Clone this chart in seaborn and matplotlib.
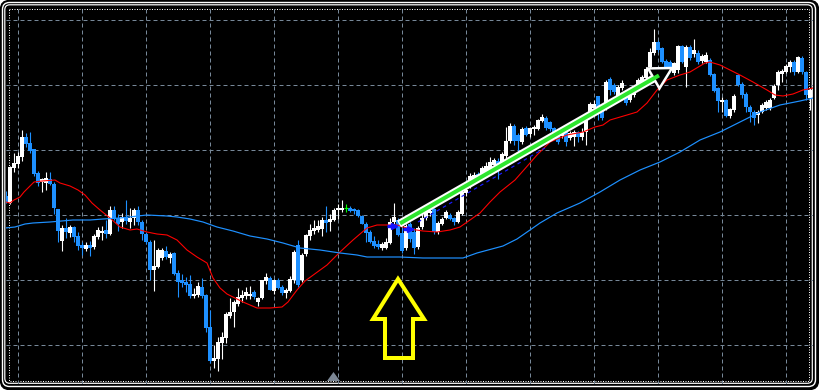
import numpy as np
import pandas as pd
import matplotlib.pyplot as plt
import seaborn as sns
from matplotlib.patches import FancyBboxPatch, Rectangle, Polygon

# Bars (arbitrary price units, one bar per slot)
open_ = [204, 197, 232, 236, 243, 263, 257, 251, 227, 218,
         217, 221, 216, 191, 159, 172, 167, 173, 164, 155,
         151, 155, 153, 163, 167, 170, 166, 190, 182, 178,
         183, 178, 182, 190, 178, 166, 158, 130, 133, 142,
         149, 142, 147, 127, 120, 118, 116, 104, 105, 113,
         105, 73, 39, 41, 57, 62, 84, 88, 96, 102,
         104, 104, 108, 98, 102, 119, 122, 109, 120, 113,
         107, 109, 120, 155, 120, 146, 164, 169, 170, 171,
         180, 178, 180, 190, 190, 192, 192, 191, 190, 184,
         176, 168, 159, 156, 152, 152, 157, 178, 180, 167,
         152, 176, 168, 153, 173, 182, 187, 191, 168, 176,
         182, 185, 182, 178, 186, 207, 218, 220, 226, 224,
         228, 231, 235, 239, 236, 244, 259, 274, 265, 258,
         272, 266, 271, 271, 279, 282, 278, 272, 268, 264,
         269, 262, 263, 268, 263, 268, 288, 292, 304, 292,
         293, 321, 315, 302, 312, 304, 300, 305, 313, 317,
         322, 333, 347, 358, 352, 339, 338, 327, 330, 354,
         333, 353, 346, 347, 339, 338, 340, 326, 312, 298,
         300, 284, 290, 325, 316, 306, 293, 288, 285, 288,
         292, 292, 302, 315, 326, 328, 333, 338, 328, 342,
         328, 302]
high = [209, 234, 247, 248, 270, 267, 268, 251, 229, 222,
        228, 228, 218, 191, 175, 182, 175, 174, 168, 158,
        158, 159, 166, 173, 174, 180, 194, 194, 186, 187,
        200, 192, 192, 194, 180, 168, 160, 160, 152, 152,
        154, 148, 148, 130, 126, 123, 125, 112, 118, 122,
        106, 90, 55, 63, 68, 88, 102, 100, 112, 110,
        113, 114, 110, 103, 120, 127, 124, 121, 122, 115,
        112, 124, 150, 160, 147, 166, 176, 180, 180, 183,
        194, 186, 192, 196, 200, 196, 194, 192, 191, 185,
        178, 170, 164, 160, 158, 162, 182, 197, 182, 172,
        176, 178, 172, 174, 186, 190, 191, 192, 179, 183,
        190, 187, 183, 190, 210, 215, 227, 228, 228, 234,
        238, 243, 242, 242, 248, 273, 277, 276, 267, 273,
        274, 273, 275, 281, 286, 284, 279, 273, 270, 269,
        270, 269, 270, 269, 272, 282, 298, 300, 304, 294,
        320, 323, 317, 315, 320, 305, 308, 314, 322, 325,
        333, 352, 371, 360, 353, 341, 340, 338, 355, 355,
        355, 355, 361, 350, 346, 348, 342, 327, 313, 303,
        301, 292, 306, 326, 318, 308, 295, 290, 290, 297,
        300, 302, 316, 330, 331, 336, 340, 340, 344, 344,
        329, 312]
low = [197, 196, 228, 232, 239, 253, 247, 224, 214, 208,
       210, 215, 186, 158, 149, 162, 163, 158, 150, 145,
       149, 144, 151, 161, 160, 162, 165, 180, 169, 172,
       176, 172, 175, 175, 160, 156, 120, 109, 132, 140,
       141, 137, 125, 103, 113, 108, 102, 102, 103, 102,
       68, 37, 32, 29, 41, 57, 82, 73, 94, 98,
       101, 101, 101, 94, 101, 116, 110, 106, 111, 105,
       102, 108, 117, 113, 118, 144, 160, 166, 168, 164,
       168, 169, 179, 181, 188, 188, 188, 186, 183, 176,
       158, 157, 152, 151, 150, 151, 156, 176, 164, 147,
       150, 158, 146, 151, 171, 180, 184, 166, 166, 175,
       181, 180, 175, 177, 185, 204, 212, 217, 218, 222,
       225, 228, 232, 221, 235, 242, 257, 255, 248, 256,
       264, 263, 265, 270, 278, 270, 269, 264, 256, 262,
       254, 260, 254, 258, 260, 255, 285, 290, 280, 280,
       290, 305, 306, 298, 310, 295, 298, 303, 311, 315,
       321, 332, 345, 348, 337, 331, 328, 325, 327, 337,
       313, 340, 343, 336, 337, 337, 324, 308, 288, 288,
       283, 282, 288, 314, 302, 288, 278, 275, 277, 287,
       290, 290, 301, 310, 318, 327, 328, 325, 327, 326,
       300, 290]
close = [198, 233, 237, 244, 263, 256, 249, 226, 217, 221,
         222, 216, 192, 169, 172, 168, 173, 163, 154, 152,
         155, 152, 164, 170, 169, 166, 190, 181, 176, 183,
         179, 182, 190, 178, 166, 158, 130, 134, 150, 150,
         143, 146, 126, 118, 117, 115, 104, 106, 114, 104,
         72, 39, 42, 58, 63, 86, 88, 98, 103, 105,
         108, 106, 103, 102, 120, 123, 110, 120, 112, 107,
         110, 121, 148, 115, 145, 165, 170, 172, 174, 180,
         177, 181, 190, 192, 192, 192, 189, 189, 184, 176,
         167, 158, 154, 153, 156, 158, 178, 183, 165, 149,
         174, 161, 152, 172, 182, 188, 189, 168, 177, 181,
         188, 181, 178, 188, 208, 210, 224, 225, 221, 232,
         234, 238, 240, 232, 246, 259, 274, 259, 259, 271,
         265, 272, 273, 280, 283, 272, 271, 266, 258, 267,
         258, 267, 268, 263, 268, 280, 296, 296, 292, 282,
         318, 310, 308, 313, 317, 297, 307, 313, 320, 323,
         331, 348, 358, 350, 338, 333, 330, 337, 354, 338,
         353, 342, 350, 338, 344, 345, 325, 309, 299, 300,
         284, 291, 304, 315, 305, 293, 288, 282, 288, 295,
         298, 300, 314, 328, 329, 334, 338, 328, 343, 328,
         305, 310]

# Moving averages, read at a set of bar positions
fast_ma_bar = [0, 1, 2, 3.5, 4.5, 6, 7, 9, 12.25, 13.5, 16, 18, 19.75, 21.5,
               23.5, 26, 28.5, 31, 32.75, 35.25, 37.75, 40.25, 42.75, 45.25,
               47.75, 50.25, 51.75, 53.5, 55.25, 56.75, 59.25, 62.75, 66, 69,
               70.5, 72.75, 74.75, 80.25, 83.5, 86.75, 90.25, 92.75, 95.25,
               97.75, 101, 104.25, 107.75, 111, 113.5, 116, 118.5, 121, 123.5,
               127.25, 131, 132.75, 136, 140.25, 144.25, 147.25, 149.25, 151,
               155.25, 157.75, 160.25, 162.75, 165.25, 168.5, 171, 174.75, 176,
               178.5, 181, 183.5, 186.75, 190.25, 192.25, 194.25, 196.75,
               199.25, 201.75]
fast_ma = [198, 197, 200, 203, 208, 214, 218, 219, 220, 217, 214, 210, 205, 197,
           190, 182, 173, 170, 171, 168, 166, 165, 160, 150,
           143, 137, 122, 112, 106, 103, 98, 92, 92, 93,
           98, 110, 119, 135, 148, 160, 172, 175, 175,
           175, 171, 169, 168, 170, 173, 180, 187, 198, 208,
           220, 237, 245, 258, 265, 268, 273, 275, 280,
           285, 288, 297, 310, 320, 325, 328, 337, 338,
           335, 330, 325, 318, 310, 305, 304, 306,
           310, 312]
slow_ma_bar = [-0.25, 2.25, 4.75, 6.75, 11, 16.75, 21, 24.25, 28.5, 35.25, 40.25,
               42.75, 46, 49.25, 52.75, 56.75, 61, 65.25, 69.25, 73.5, 78.5,
               83.5, 87.75, 90.25, 94.25, 98.5, 104.25, 114.25, 117.75, 124.25,
               127.75, 131, 133.5, 137.75, 143.5, 148.5, 153.5, 158.5, 163.5,
               168.5, 173.5, 178.5, 183.5, 188.5, 193.5, 198.5, 201.75]
slow_ma = [172, 173, 176, 177, 178, 180, 180, 181, 182, 185, 184,
           183, 181, 178, 173, 169, 164, 161, 157, 152, 150,
           147, 145, 143, 143, 143, 142, 142, 147, 154,
           161, 170, 177, 187, 197, 208, 220, 230, 238,
           248, 260, 268, 278, 288, 295, 299, 302]

# Drawn objects on the chart (bar, price)
trend_arrow = [(98.25, 176), (166.5, 332)]
trend_line = [(103, 178), (134.75, 252)]
signal_marks = [(96.5, 174), (100.5, 171)]

df = pd.DataFrame({"open": open_, "high": high, "low": low, "close": close})
df["bar"] = np.arange(len(df))
up = df[df.close > df.open]
dn = df[df.close < df.open]
dj = df[df.close == df.open]

BULL = "#ffffff"
BEAR = "#1e90ff"
DOJI = "#00ff00"
GRID = "#778899"
PX = 0.72  # one pixel in points at 100 dpi

sns.set_theme(style="dark")
plt.rcParams["figure.facecolor"] = "white"
fig = plt.figure(figsize=(8.19, 3.9), dpi=100)

# window frame in pixel units
bg = fig.add_axes([0, 0, 1, 1])
bg.set_xlim(0, 819)
bg.set_ylim(390, 0)
bg.axis("off")
bg.add_patch(FancyBboxPatch((0.5, 0.5), 818, 389, boxstyle="round,pad=0,rounding_size=9",
                            fc="black", ec="black", lw=1))
bg.add_patch(FancyBboxPatch((2.5, 2.5), 813, 384, boxstyle="round,pad=0,rounding_size=7",
                            fc="none", ec="white", lw=1.4 * PX))
bg.add_patch(FancyBboxPatch((4.8, 4.8), 807.5, 378.5, boxstyle="round,pad=0,rounding_size=5",
                            fc="none", ec="white", lw=1.2 * PX))
bg.add_patch(Rectangle((9, 8.5), 799.5, 372, fill=False, ec="white", lw=PX,
                       ls=(0, (1, 1.5))))

ax = fig.add_axes([5.5 / 819, (390 - 383.5) / 390, (812.5 - 5.5) / 819, (383.5 - 5.5) / 390])
ax.set_facecolor("none")
ax.set_zorder(2)
for s in ax.spines.values():
    s.set_visible(False)

# grid
ax.set_xticks(np.arange(3, 202, 16))
ax.set_yticks([55, 120, 185, 250, 315, 380])
ax.grid(True, color=GRID, lw=PX, ls=(0, (4, 3)))
ax.set_axisbelow(True)
ax.tick_params(length=0, labelbottom=False, labelleft=False)

# candles
ax.vlines(up.bar, up.low, up.high, color=BULL, lw=PX * 1.1, zorder=3)
ax.vlines(dn.bar, dn.low, dn.high, color=BEAR, lw=PX * 1.1, zorder=3)
ax.vlines(dj.bar, dj.low, dj.high, color=DOJI, lw=PX * 1.1, zorder=3)
ax.bar(up.bar, np.maximum(up.close - up.open, 1), bottom=up.open, width=0.78,
       color=BULL, linewidth=0, zorder=3)
ax.bar(dn.bar, np.maximum(dn.open - dn.close, 1), bottom=dn.close, width=0.78,
       color=BEAR, linewidth=0, zorder=3)
ax.hlines(dj.open, dj.bar - 0.4, dj.bar + 0.4, color=DOJI, lw=PX * 1.2, zorder=3)

# moving averages
sns.lineplot(x=fast_ma_bar, y=fast_ma, ax=ax, color="#ff0000", lw=PX * 1.1,
             estimator=None, sort=False, zorder=4)
sns.lineplot(x=slow_ma_bar, y=slow_ma, ax=ax, color=BEAR, lw=PX * 1.2,
             estimator=None, sort=False, zorder=4)

# dashed trend line under the arrow
(tx0, ty0), (tx1, ty1) = trend_line
ax.plot([tx0, tx1], [ty0, ty1], color="#1a1aff", lw=PX * 1.2, ls=(0, (3, 3)), zorder=5)

# signal marks
mx = [p[0] for p in signal_marks]
my = [p[1] for p in signal_marks]
ax.plot(mx, my, ls="none", marker="_", ms=7, mew=2.4, color="#1414ff", zorder=6)
ax.plot([x + 0.6 for x in mx], my, ls="none", marker=">", ms=5, color="#1414ff", zorder=6)

# big green arrow
(ax0, ay0), (ax1, ay1) = trend_arrow
# direction in pixel space (1 bar = 4 px, 1 price unit = 1 px)
dxp, dyp = (ax1 - ax0) * 4, (ay1 - ay0)
L = np.hypot(dxp, dyp)
ux, uy = dxp / L, dyp / L
head_len, head_half = 21, 11.5
bx, by = ax1 - head_len * ux / 4, ay1 - head_len * uy
px_, py_ = -uy, ux
c1 = (bx + head_half * px_ / 4, by + head_half * py_)
c2 = (bx - head_half * px_ / 4, by - head_half * py_)
ax.plot([ax0, bx], [ay0, by], color="white", lw=8 * PX, solid_capstyle="butt", zorder=7)
ax.add_patch(Polygon([c1, (ax1, ay1), c2], closed=True, fc="black", ec="white",
                     lw=2.5 * PX, joinstyle="miter", zorder=7))
ax.plot([ax0 + 0.3 * ux, bx + 6 * ux / 4], [ay0 + 1.2 * uy, by + 6 * uy], color="#2ee62e",
        lw=4 * PX, solid_capstyle="butt", zorder=8)

# yellow outline arrow
ax.add_patch(Polygon([(98, 121), (104.5, 81), (101.75, 81), (101.75, 42),
                      (94.75, 42), (94.75, 81), (91.75, 81)], closed=True,
                     fill=False, ec="#ffff00", lw=4 * PX, joinstyle="miter", zorder=7))

# chart-shift marker at the bottom
ax.add_patch(Polygon([(80.25, 19), (83.5, 19), (81.875, 28)], closed=True,
                     fc="#7d8896", ec="none", zorder=6))

ax.set_xlim((5.5 - 6) / 4, (812.5 - 6) / 4)
ax.set_ylim(400 - 383.5, 400 - 5.5)

fig.savefig("out.png", dpi=100)
